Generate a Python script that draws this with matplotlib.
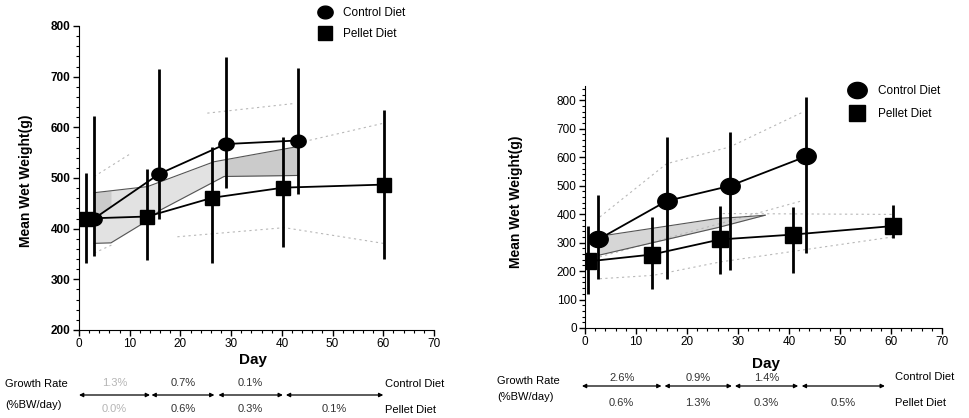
import numpy as np
import matplotlib
matplotlib.use("Agg")
import matplotlib.pyplot as plt
from matplotlib.path import Path
from matplotlib.lines import Line2D
from matplotlib.ticker import MultipleLocator

plt.rcParams['font.family'] = ['Liberation Sans', 'DejaVu Sans']

# ---- left panel data ----
l_ctrl_day = [3, 15.8, 28.9, 43.1]
l_ctrl_val = [420, 508, 567, 574]
l_ctrl_lo = [346, 420, 480, 468]
l_ctrl_hi = [623, 715, 738, 718]

l_pel_day = [1.3, 13.5, 26.3, 40.3, 60.2]
l_pel_val = [420, 424, 461, 481, 487]
l_pel_lo = [332, 338, 332, 364, 340]
l_pel_hi = [509, 518, 562, 581, 634]

# shaded band (left)
l_band_up_day = [3, 13.5, 26.6, 43.1]
l_band_up_val = [471, 483, 532, 562]
l_band_lo_day = [3, 6.3, 13.2, 16.1, 28.6, 43.1]
l_band_lo_val = [371, 372, 414, 437, 503, 505]

# faint dotted lines (left)
l_dot = [
    ([3, 10], [503, 547]),
    ([25.3, 42.4], [628, 647]),
    ([44.4, 60], [572, 608]),
    ([19.4, 40.5, 60], [384, 402, 371]),
    ([3, 6.5], [352, 368]),
]

# ---- right panel data ----
r_ctrl_day = [2.6, 16.0, 28.4, 43.4]
r_ctrl_val = [311, 446, 499, 603]
r_ctrl_lo = [173, 171, 205, 263]
r_ctrl_hi = [468, 671, 689, 811]

r_pel_day = [0.65, 13.1, 26.5, 40.7, 60.3]
r_pel_val = [234, 258, 311, 328, 358]
r_pel_lo = [118, 138, 191, 194, 317]
r_pel_hi = [358, 390, 429, 425, 433]

r_band_up_day = [2.8, 26.1, 30.7, 35.3]
r_band_up_val = [322, 385, 390, 396]
r_band_lo_day = [2.8, 26.1, 35.3]
r_band_lo_val = [256, 353, 396]

r_dot = [
    ([2.9, 16, 28.4, 42.8], [390, 577, 636, 759]),
    ([2.9, 42.8], [250, 448]),
    ([27, 60.4], [402, 399]),
    ([2.9, 13.4, 26.5, 60.4], [173, 185, 232, 320]),
]

# ---- growth rate annotations ----
l_arrow_days = [(0, 14), (14.3, 26.7), (27.5, 40.2), (40.8, 60)]
l_ctrl_rate = ['1.3%', '0.7%', '0.1%', '']
l_pel_rate = ['0.0%', '0.6%', '0.3%', '0.1%']
r_arrow_days = [(-0.6, 15), (15.6, 28.8), (29.4, 41.8), (42.5, 58.8)]
r_ctrl_rate = ['2.6%', '0.9%', '1.4%', '']
r_pel_rate = ['0.6%', '1.3%', '0.3%', '0.5%']

W, H = 970, 418
fig = plt.figure(figsize=(W / 100, H / 100), dpi=100)

th = np.linspace(0, 2 * np.pi, 64)
ellipse = Path(np.column_stack([1.2 * np.cos(th), np.sin(th)]), closed=True)


def band_fill(ax, up_d, up_v, lo_d, lo_v, color):
    xs = np.unique(np.concatenate([up_d, lo_d]))
    ax.fill_between(xs, np.interp(xs, up_d, up_v), np.interp(xs, lo_d, lo_v),
                    color=color, lw=0, zorder=1)
    ax.plot(up_d, up_v, color='#555555', lw=0.8, zorder=2)
    ax.plot(lo_d, lo_v, color='#555555', lw=0.8, zorder=2)


def panel(ax, ylim, cd, cv, clo, chi, pd, pv, plo, phi, dots, ms_c, ms_s, bold):
    for d, v in dots:
        ax.plot(d, v, color='#b8b8b8', lw=0.8, ls=(0, (2, 3)), zorder=1)
    ax.vlines(cd, clo, chi, color='black', lw=2, zorder=3)
    ax.vlines(pd, plo, phi, color='black', lw=2, zorder=3)
    ax.plot(cd, cv, color='black', lw=1.3, marker=ellipse, ms=ms_c, zorder=4)
    ax.plot(pd, pv, color='black', lw=1.3, marker='s', ms=ms_s, zorder=4)
    ax.set_xlim(0, 70)
    ax.set_ylim(*ylim)
    ax.spines['top'].set_visible(False)
    ax.spines['right'].set_visible(False)
    ax.xaxis.set_major_locator(MultipleLocator(10))
    ax.xaxis.set_minor_locator(MultipleLocator(2))
    ax.yaxis.set_major_locator(MultipleLocator(100))
    ax.yaxis.set_minor_locator(MultipleLocator(20))
    ax.tick_params(which='major', direction='out', length=4, width=1,
                   labelsize=8.5, pad=2)
    ax.tick_params(which='minor', direction='out', length=2, width=0.8)
    if bold:
        for lab in ax.get_yticklabels():
            lab.set_fontweight('bold')
    ax.set_ylabel('Mean Wet Weight(g)', fontsize=10, fontweight='bold')
    ax.set_xlabel('Day', fontsize=11, fontweight='bold')


def legend(ax, x0, y0, ms_c, ms_s, spacing, textpad):
    h = [Line2D([], [], ls='none', marker=ellipse, ms=ms_c, color='black'),
         Line2D([], [], ls='none', marker='s', ms=ms_s, color='black')]
    ax.legend(h, ['Control Diet', 'Pellet Diet'], loc='upper left',
              bbox_to_anchor=(x0 / W, 1 - y0 / H), bbox_transform=fig.transFigure,
              frameon=False, fontsize=8.5, borderpad=0, borderaxespad=0,
              handlelength=1.5, handletextpad=textpad, labelspacing=spacing)


def growth(ax, x_lab, y_lab1, y_lab2, y_arrow, y_up, y_bot, spans, up, lo, faded):
    fig.text(x_lab / W, 1 - y_lab1 / H, 'Growth Rate', fontsize=8, va='center')
    fig.text(x_lab / W, 1 - y_lab2 / H, '(%BW/day)', fontsize=8, va='center')
    for i, (a, b) in enumerate(spans):
        ax.annotate('', xy=(b, 1 - y_arrow / H), xytext=(a, 1 - y_arrow / H),
                    xycoords=('data', 'figure fraction'),
                    textcoords=('data', 'figure fraction'),
                    arrowprops=dict(arrowstyle='<|-|>', lw=0.9, color='black',
                                    mutation_scale=6, shrinkA=0, shrinkB=0))
        mid = (a + b) / 2
        col = '#b5b5b5' if (faded and i == 0) else '#333333'
        ax.annotate(up[i], xy=(mid, 1 - y_up / H),
                    xycoords=('data', 'figure fraction'), ha='center',
                    va='center', fontsize=8, color=col)
        ax.annotate(lo[i], xy=(mid, 1 - y_bot / H),
                    xycoords=('data', 'figure fraction'), ha='center',
                    va='center', fontsize=8, color=col)


# ---- left ----
axl = fig.add_axes([79 / W, 1 - 330 / H, 355 / W, 304 / H])
band_fill(axl, l_band_up_day, l_band_up_val, l_band_lo_day, l_band_lo_val, '#e2e2e2')
axl.fill_between([28.6, 43.1], np.interp([28.6, 43.1], l_band_up_day, l_band_up_val),
                 np.interp([28.6, 43.1], l_band_lo_day, l_band_lo_val),
                 color='#cbcbcb', lw=0, zorder=1)
axl.fill_between([3, 6.3], np.interp([3, 6.3], l_band_up_day, l_band_up_val),
                 np.interp([3, 6.3], l_ctrl_day, l_ctrl_val),
                 color='#cbcbcb', lw=0, zorder=1)
panel(axl, (200, 800), l_ctrl_day, l_ctrl_val, l_ctrl_lo, l_ctrl_hi,
      l_pel_day, l_pel_val, l_pel_lo, l_pel_hi, l_dot, 11, 9.5, True)
axl.yaxis.set_label_coords(-0.13, 0.49)
axl.xaxis.set_label_coords(0.49, -0.075)
legend(axl, 316, 7, 11, 9.5, 0.75, 0.8)
growth(axl, 5, 384, 405, 395, 383, 409, l_arrow_days, l_ctrl_rate, l_pel_rate, True)
fig.text(385 / W, 1 - 384 / H, 'Control Diet', fontsize=8, va='center')
fig.text(385 / W, 1 - 410 / H, 'Pellet Diet', fontsize=8, va='center')

# ---- right ----
axr = fig.add_axes([585 / W, 1 - 328 / H, 357 / W, 242 / H])
band_fill(axr, r_band_up_day, r_band_up_val, r_band_lo_day, r_band_lo_val, '#d6d6d6')
panel(axr, (0, 850), r_ctrl_day, r_ctrl_val, r_ctrl_lo, r_ctrl_hi,
      r_pel_day, r_pel_val, r_pel_lo, r_pel_hi, r_dot, 14, 11.5, False)
axr.yaxis.set_label_coords(-0.175, 0.52)
axr.xaxis.set_label_coords(0.507, -0.12)
legend(axr, 848, 85, 14, 11.5, 0.95, 1.0)
growth(axr, 497, 381, 397, 386, 378, 403, r_arrow_days, r_ctrl_rate, r_pel_rate, False)
fig.text(895 / W, 1 - 377 / H, 'Control Diet', fontsize=8, va='center')
fig.text(895 / W, 1 - 403 / H, 'Pellet Diet', fontsize=8, va='center')

fig.savefig('out.png', dpi=100)
